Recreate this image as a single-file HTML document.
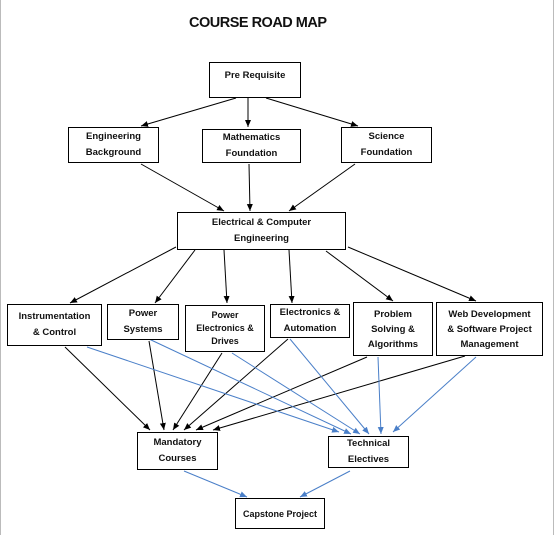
<!DOCTYPE html>
<html><head><style>
body{margin:0;background:#fff;}
.w{position:relative;width:556px;height:535px;overflow:hidden;font-family:"Liberation Sans",sans-serif;}
.b{position:absolute;border:1.3px solid #000;box-sizing:border-box;background:#fff;display:flex;align-items:center;justify-content:center;text-align:center;font-weight:bold;font-size:9.5px;line-height:16px;color:#111;}
</style></head><body><div class="w">
<div style="position:absolute;left:0;top:0;width:1px;height:535px;background:#bbb"></div>
<div style="position:absolute;left:553px;top:0;width:1px;height:535px;background:#bbb"></div>
<div style="position:absolute;left:189px;top:15px;font-weight:bold;font-size:14.5px;color:#111;letter-spacing:-0.5px">COURSE ROAD MAP</div>
<svg width="556" height="535" style="position:absolute;left:0;top:0">
<defs>
<marker id="k" markerWidth="8" markerHeight="8" refX="7" refY="4" orient="auto" markerUnits="userSpaceOnUse"><path d="M0,1 L7,4 L0,7z" fill="#000"/></marker>
<marker id="u" markerWidth="8" markerHeight="8" refX="7" refY="4" orient="auto" markerUnits="userSpaceOnUse"><path d="M0,1 L7,4 L0,7z" fill="#4a7fc8"/></marker>
</defs>
<g stroke="#000" stroke-width="1" marker-end="url(#k)">
<line x1="236" y1="98" x2="141" y2="126"/><line x1="248" y1="98" x2="248" y2="127"/><line x1="266" y1="98" x2="358" y2="126"/>
<line x1="141" y1="164" x2="224" y2="211"/><line x1="249" y1="164" x2="250" y2="211"/><line x1="355" y1="164" x2="289" y2="211"/>
<line x1="176" y1="247" x2="70" y2="303"/><line x1="195" y1="250" x2="155" y2="303"/><line x1="224" y1="250" x2="227" y2="303"/><line x1="289" y1="250" x2="292" y2="303"/><line x1="326" y1="251" x2="393" y2="301"/><line x1="348" y1="247" x2="476" y2="301"/>
<line x1="65" y1="347" x2="150" y2="430"/><line x1="149" y1="341" x2="164" y2="430"/><line x1="222" y1="353" x2="173" y2="430"/><line x1="288" y1="339" x2="184" y2="430"/><line x1="367" y1="357" x2="196" y2="430"/><line x1="465" y1="356" x2="213" y2="430"/>
</g>
<g stroke="#4a7fc8" stroke-width="1" marker-end="url(#u)">
<line x1="87" y1="347" x2="339" y2="432"/><line x1="149" y1="339" x2="351" y2="434"/><line x1="232" y1="353" x2="360" y2="434"/><line x1="290" y1="339" x2="369" y2="434"/><line x1="378" y1="357" x2="381" y2="434"/><line x1="476" y1="357" x2="393" y2="432"/>
<line x1="184" y1="471" x2="247" y2="497"/><line x1="350" y1="471" x2="300" y2="497"/>
</g>
</svg>
<div class="b" style="left:209px;top:62px;width:92px;height:36px;align-items:flex-start;padding-top:5px">Pre Requisite</div>
<div class="b" style="left:68px;top:127px;width:91px;height:36px">Engineering<br>Background</div>
<div class="b" style="left:202px;top:129px;width:99px;height:34px">Mathematics<br>Foundation</div>
<div class="b" style="left:341px;top:127px;width:91px;height:36px">Science<br>Foundation</div>
<div class="b" style="left:177px;top:212px;width:169px;height:38px">Electrical &amp; Computer<br>Engineering</div>
<div class="b" style="left:7px;top:304px;width:95px;height:42px">Instrumentation<br>&amp; Control</div>
<div class="b" style="left:107px;top:304px;width:72px;height:36px">Power<br>Systems</div>
<div class="b" style="left:185px;top:305px;width:80px;height:47px;line-height:13px;font-size:9px">Power<br>Electronics &amp;<br>Drives</div>
<div class="b" style="left:270px;top:304px;width:80px;height:34px">Electronics &amp;<br>Automation</div>
<div class="b" style="left:353px;top:302px;width:80px;height:54px;line-height:15px">Problem<br>Solving &amp;<br>Algorithms</div>
<div class="b" style="left:436px;top:302px;width:107px;height:54px;line-height:15px">Web Development<br>&amp; Software Project<br>Management</div>
<div class="b" style="left:137px;top:432px;width:81px;height:38px">Mandatory<br>Courses</div>
<div class="b" style="left:328px;top:436px;width:81px;height:32px">Technical<br>Electives</div>
<div class="b" style="left:235px;top:498px;width:90px;height:31px;font-size:9px">Capstone Project</div>
</div></body></html>
